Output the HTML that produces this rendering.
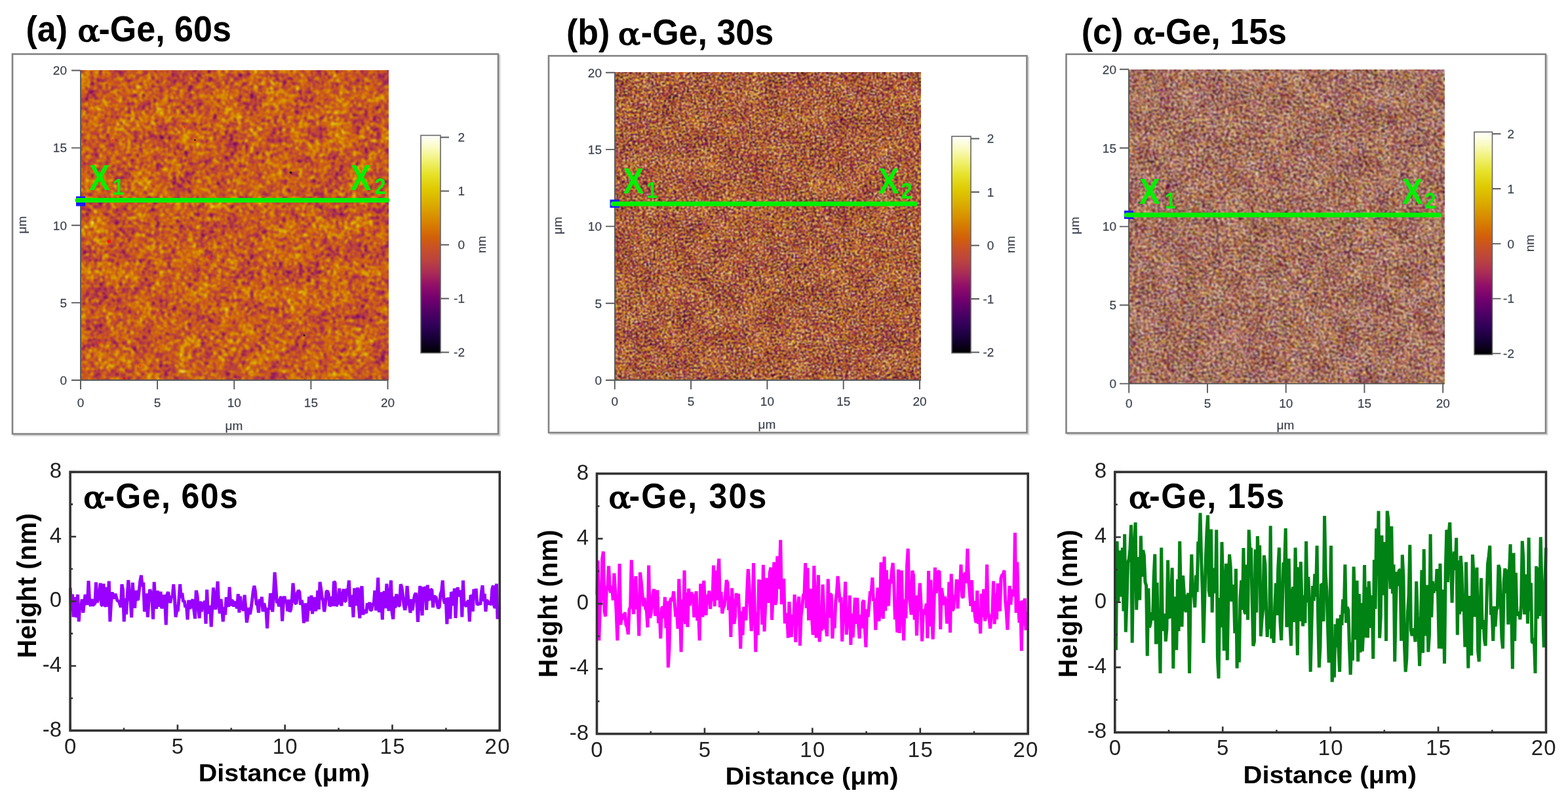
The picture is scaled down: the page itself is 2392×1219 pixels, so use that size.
<!DOCTYPE html>
<html lang="en"><head><meta charset="utf-8"><title>AFM topography of α-Ge films</title>
<style>html,body{margin:0;padding:0;background:#fff;overflow:hidden}svg{display:block}</style></head><body>
<svg width="2392" height="1219" viewBox="0 0 2392 1219" role="img" aria-label="AFM height maps and line profiles of α-Ge films deposited for 60 s, 30 s and 15 s">
<rect width="2392" height="1219" fill="#fff"/>
<defs>
<linearGradient id="cb" x1="0" y1="1" x2="0" y2="0">
<stop offset="0" stop-color="rgb(0,0,0)"/>
<stop offset="0.06" stop-color="rgb(20,0,50)"/>
<stop offset="0.12" stop-color="rgb(45,0,85)"/>
<stop offset="0.18" stop-color="rgb(75,0,100)"/>
<stop offset="0.25" stop-color="rgb(115,0,110)"/>
<stop offset="0.31" stop-color="rgb(145,15,105)"/>
<stop offset="0.37" stop-color="rgb(170,45,85)"/>
<stop offset="0.42" stop-color="rgb(185,65,65)"/>
<stop offset="0.48" stop-color="rgb(200,80,40)"/>
<stop offset="0.53" stop-color="rgb(210,95,10)"/>
<stop offset="0.6" stop-color="rgb(215,130,0)"/>
<stop offset="0.68" stop-color="rgb(218,170,0)"/>
<stop offset="0.75" stop-color="rgb(222,200,0)"/>
<stop offset="0.82" stop-color="rgb(230,225,40)"/>
<stop offset="0.88" stop-color="rgb(240,240,110)"/>
<stop offset="0.94" stop-color="rgb(250,250,190)"/>
<stop offset="1" stop-color="rgb(255,255,255)"/>
</linearGradient>
<filter id="nza" x="0" y="0" width="100%" height="100%" color-interpolation-filters="sRGB">
<feTurbulence type="fractalNoise" baseFrequency="0.16" numOctaves="2" seed="3"/>
<feColorMatrix type="matrix" values="1 0 0 0 0  1 0 0 0 0  1 0 0 0 0  0 0 0 0 1" result="a"/>
<feTurbulence type="fractalNoise" baseFrequency="0.23" numOctaves="2" seed="6"/>
<feColorMatrix type="matrix" values="1 0 0 0 0  1 0 0 0 0  1 0 0 0 0  0 0 0 0 1" result="a2"/>
<feTurbulence type="fractalNoise" baseFrequency="0.03" numOctaves="2" seed="10"/>
<feColorMatrix type="matrix" values="1 0 0 0 0  1 0 0 0 0  1 0 0 0 0  0 0 0 0 1" result="b"/>
<feComposite in="a" in2="a2" operator="arithmetic" k1="0" k2="0.5" k3="0.5" k4="0" result="fine"/>
<feComposite in="fine" in2="b" operator="arithmetic" k1="0" k2="1.15" k3="0.3" k4="-0.22" result="c"/>
<feComponentTransfer in="c"><feFuncR type="table" tableValues="0.000 0.020 0.041 0.061 0.083 0.108 0.134 0.159 0.186 0.217 0.248 0.278 0.311 0.346 0.381 0.416 0.451 0.482 0.512 0.543 0.573 0.598 0.624 0.649 0.673 0.691 0.709 0.727 0.743 0.758 0.773 0.788 0.800 0.812 0.824 0.828 0.833 0.837 0.841 0.845 0.847 0.849 0.851 0.854 0.857 0.860 0.864 0.867 0.871 0.878 0.885 0.892 0.899 0.907 0.917 0.928 0.938 0.948 0.958 0.969 0.979 0.985 0.990 0.995 1.000"/><feFuncG type="table" tableValues="0.000 0.000 0.000 0.000 0.000 0.000 0.000 0.000 0.000 0.000 0.000 0.000 0.000 0.000 0.000 0.000 0.000 0.015 0.031 0.046 0.064 0.094 0.125 0.156 0.184 0.209 0.233 0.257 0.272 0.287 0.303 0.319 0.337 0.356 0.375 0.406 0.436 0.467 0.498 0.528 0.559 0.589 0.620 0.651 0.679 0.706 0.732 0.758 0.784 0.806 0.828 0.850 0.872 0.890 0.906 0.921 0.936 0.948 0.958 0.969 0.979 0.985 0.990 0.995 1.000"/><feFuncB type="table" tableValues="0.000 0.051 0.102 0.153 0.202 0.238 0.273 0.309 0.338 0.354 0.369 0.384 0.396 0.405 0.414 0.423 0.431 0.426 0.421 0.416 0.408 0.388 0.368 0.347 0.325 0.301 0.276 0.252 0.226 0.201 0.175 0.147 0.110 0.073 0.039 0.030 0.021 0.012 0.004 0.000 0.000 0.000 0.000 0.000 0.000 0.000 0.000 0.000 0.000 0.035 0.070 0.105 0.140 0.194 0.266 0.337 0.408 0.487 0.569 0.650 0.732 0.801 0.867 0.934 1.000"/></feComponentTransfer>
<feGaussianBlur stdDeviation="1.5"/>
<feComponentTransfer><feFuncA type="linear" slope="0" intercept="1"/></feComponentTransfer>
</filter>
<filter id="nzb" x="0" y="0" width="100%" height="100%" color-interpolation-filters="sRGB">
<feTurbulence type="fractalNoise" baseFrequency="0.37 0.41" numOctaves="2" seed="11"/>
<feColorMatrix type="matrix" values="1 0 0 0 0  1 0 0 0 0  1 0 0 0 0  0 0 0 0 1" result="a"/>
<feTurbulence type="fractalNoise" baseFrequency="0.46 0.43" numOctaves="2" seed="14"/>
<feColorMatrix type="matrix" values="1 0 0 0 0  1 0 0 0 0  1 0 0 0 0  0 0 0 0 1" result="a2"/>
<feTurbulence type="fractalNoise" baseFrequency="0.03" numOctaves="2" seed="18"/>
<feColorMatrix type="matrix" values="1 0 0 0 0  1 0 0 0 0  1 0 0 0 0  0 0 0 0 1" result="b"/>
<feComposite in="a" in2="a2" operator="arithmetic" k1="0" k2="0.5" k3="0.5" k4="0" result="fine"/>
<feComposite in="fine" in2="b" operator="arithmetic" k1="0" k2="3.0" k3="0.2" k4="-1.1" result="c"/>
<feComponentTransfer in="c"><feFuncR type="table" tableValues="0.000 0.000 0.000 0.000 0.000 0.005 0.028 0.050 0.073 0.099 0.127 0.155 0.185 0.219 0.252 0.286 0.323 0.362 0.400 0.439 0.474 0.508 0.541 0.574 0.602 0.630 0.658 0.681 0.701 0.721 0.739 0.756 0.773 0.790 0.806 0.821 0.828 0.834 0.839 0.844 0.847 0.850 0.852 0.856 0.860 0.864 0.869 0.876 0.884 0.893 0.902 0.914 0.927 0.940 0.953 0.966 0.978 0.986 0.992 0.998 1.000 1.000 1.000 1.000 1.000"/><feFuncG type="table" tableValues="0.000 0.000 0.000 0.000 0.000 0.000 0.000 0.000 0.000 0.000 0.000 0.000 0.000 0.000 0.000 0.000 0.000 0.000 0.000 0.000 0.012 0.028 0.045 0.065 0.099 0.133 0.166 0.195 0.222 0.249 0.268 0.285 0.302 0.323 0.346 0.369 0.404 0.442 0.481 0.519 0.557 0.596 0.634 0.671 0.704 0.737 0.770 0.800 0.827 0.854 0.882 0.901 0.920 0.939 0.953 0.966 0.978 0.986 0.992 0.998 1.000 1.000 1.000 1.000 1.000"/><feFuncB type="table" tableValues="0.000 0.000 0.000 0.000 0.000 0.013 0.069 0.125 0.181 0.225 0.264 0.304 0.338 0.354 0.371 0.388 0.399 0.409 0.419 0.428 0.428 0.422 0.416 0.407 0.385 0.362 0.340 0.314 0.287 0.260 0.233 0.205 0.176 0.139 0.093 0.047 0.030 0.019 0.008 0.000 0.000 0.000 0.000 0.000 0.000 0.000 0.000 0.025 0.068 0.112 0.156 0.244 0.334 0.423 0.524 0.626 0.728 0.814 0.897 0.980 1.000 1.000 1.000 1.000 1.000"/></feComponentTransfer>
<feGaussianBlur stdDeviation="1.0"/>
<feComponentTransfer><feFuncA type="linear" slope="0" intercept="1"/></feComponentTransfer>
</filter>
<filter id="nzc" x="0" y="0" width="100%" height="100%" color-interpolation-filters="sRGB">
<feTurbulence type="fractalNoise" baseFrequency="0.41 0.37" numOctaves="2" seed="23"/>
<feColorMatrix type="matrix" values="1 0 0 0 0  1 0 0 0 0  1 0 0 0 0  0 0 0 0 1" result="a"/>
<feTurbulence type="fractalNoise" baseFrequency="0.44 0.47" numOctaves="2" seed="26"/>
<feColorMatrix type="matrix" values="1 0 0 0 0  1 0 0 0 0  1 0 0 0 0  0 0 0 0 1" result="a2"/>
<feTurbulence type="fractalNoise" baseFrequency="0.03" numOctaves="2" seed="30"/>
<feColorMatrix type="matrix" values="1 0 0 0 0  1 0 0 0 0  1 0 0 0 0  0 0 0 0 1" result="b"/>
<feComposite in="a" in2="a2" operator="arithmetic" k1="0" k2="0.5" k3="0.5" k4="0" result="fine"/>
<feComposite in="fine" in2="b" operator="arithmetic" k1="0" k2="3.0" k3="0.15" k4="-1.07" result="c"/>
<feComponentTransfer in="c"><feFuncR type="table" tableValues="0.000 0.000 0.000 0.000 0.000 0.000 0.000 0.000 0.000 0.000 0.000 0.000 0.008 0.039 0.069 0.105 0.144 0.183 0.229 0.275 0.325 0.377 0.430 0.479 0.525 0.570 0.608 0.647 0.680 0.707 0.733 0.756 0.779 0.809 0.828 0.838 0.846 0.851 0.857 0.865 0.876 0.892 0.911 0.935 0.958 0.981 0.993 1.000 1.000 1.000 1.000 1.000 1.000 1.000 1.000 1.000 1.000 1.000 1.000 1.000 1.000 1.000 1.000 1.000 1.000"/><feFuncG type="table" tableValues="0.000 0.000 0.000 0.000 0.000 0.000 0.000 0.000 0.000 0.000 0.000 0.000 0.000 0.000 0.000 0.000 0.000 0.000 0.000 0.000 0.000 0.000 0.000 0.014 0.037 0.061 0.107 0.153 0.194 0.231 0.263 0.286 0.309 0.350 0.406 0.476 0.547 0.617 0.685 0.745 0.802 0.852 0.896 0.932 0.958 0.981 0.993 1.000 1.000 1.000 1.000 1.000 1.000 1.000 1.000 1.000 1.000 1.000 1.000 1.000 1.000 1.000 1.000 1.000 1.000"/><feFuncB type="table" tableValues="0.000 0.000 0.000 0.000 0.000 0.000 0.000 0.000 0.000 0.000 0.000 0.000 0.020 0.097 0.174 0.234 0.288 0.337 0.360 0.383 0.400 0.413 0.426 0.427 0.419 0.411 0.380 0.349 0.316 0.279 0.242 0.203 0.165 0.084 0.030 0.010 0.000 0.000 0.000 0.000 0.028 0.109 0.223 0.387 0.569 0.754 0.907 1.000 1.000 1.000 1.000 1.000 1.000 1.000 1.000 1.000 1.000 1.000 1.000 1.000 1.000 1.000 1.000 1.000 1.000"/></feComponentTransfer>
<feGaussianBlur stdDeviation="1.5"/>
<feComponentTransfer><feFuncA type="linear" slope="0" intercept="1"/></feComponentTransfer>
</filter>
</defs>
<g>
<g id="afm-a">
<text transform="translate(118.5 62.6) scale(1.07 1)" font-family='"DejaVu Serif", "Liberation Serif", serif' font-size="47" font-weight="normal" fill="#000" stroke="#000" stroke-width="1.7" stroke-linejoin="round">α</text>
<text transform="translate(39.5 62.6) scale(1 1.06)" font-family='"Liberation Sans", Arial, Helvetica, sans-serif' font-size="52" font-weight="bold" fill="#000">(a) <tspan dx="33">-Ge, 60s</tspan></text>
<path d="M20 664.2 H762.2 V83.5" fill="none" stroke="#d4d4d4" stroke-width="2.6"/>
<rect x="19" y="82.5" width="741" height="579.5" fill="#fff" stroke="#838383" stroke-width="2.6"/>
<rect x="123" y="107.5" width="469.5" height="472.5" fill="rgb(200,100,30)"/>
<rect x="123" y="107.5" width="469.5" height="472.5" fill="#000" filter="url(#nza)" opacity="1"/>
<circle cx="175.7" cy="155.1" r="1.6" fill="#ff3020"/>
<circle cx="276" cy="161.8" r="1.4" fill="#ff3020"/>
<circle cx="281.7" cy="193.6" r="1.8" fill="#ff2a18"/>
<circle cx="171.8" cy="213.7" r="1.5" fill="#ff3020"/>
<circle cx="564.6" cy="181.3" r="1.4" fill="#ff4030"/>
<circle cx="166.2" cy="368.2" r="2.6" fill="#ff1408"/>
<circle cx="318" cy="393.3" r="1.8" fill="#ff2a18"/>
<circle cx="304" cy="415.6" r="1.3" fill="#ff4030"/>
<circle cx="553.4" cy="349.8" r="1.8" fill="#ff2010"/>
<circle cx="242.7" cy="478" r="1.4" fill="#ff4030"/>
<circle cx="345.9" cy="485.4" r="1.3" fill="#ff4030"/>
<circle cx="151.7" cy="522.7" r="1.7" fill="#ff2a18"/>
<circle cx="213.7" cy="557.9" r="1.5" fill="#ff3020"/>
<circle cx="503.8" cy="546.7" r="1.4" fill="#ff4030"/>
<circle cx="189.7" cy="577.6" r="2.2" fill="#e01010"/>
<circle cx="297.4" cy="213.7" r="1.4" fill="#2a1020"/>
<circle cx="443.5" cy="263.3" r="1.8" fill="#201018"/>
<circle cx="464.2" cy="511.6" r="1.5" fill="#2a1a10"/>
<g stroke="#3b3f4c" stroke-width="0.35" stroke-opacity="0.55">
<path d="M123 580 V594 M109 107.5 H123 M240.12 580 V594 M109 225.62 H123 M357.25 580 V594 M109 343.75 H123 M474.38 580 V594 M109 461.88 H123 M591.5 580 V594 M109 580 H123 M123 107.5 V580 H592.5" fill="none" stroke="#5a5a5a" stroke-width="1.9" stroke-opacity="1"/>
<text transform="translate(123 620.84)" font-family='"Liberation Sans", Arial, Helvetica, sans-serif' font-size="19" font-weight="normal" text-anchor="middle" fill="#3b3f4c">0</text>
<text transform="translate(102 586.84)" font-family='"Liberation Sans", Arial, Helvetica, sans-serif' font-size="19" font-weight="normal" text-anchor="end" fill="#3b3f4c">0</text>
<text transform="translate(240.12 620.84)" font-family='"Liberation Sans", Arial, Helvetica, sans-serif' font-size="19" font-weight="normal" text-anchor="middle" fill="#3b3f4c">5</text>
<text transform="translate(102 468.71)" font-family='"Liberation Sans", Arial, Helvetica, sans-serif' font-size="19" font-weight="normal" text-anchor="end" fill="#3b3f4c">5</text>
<text transform="translate(357.25 620.84)" font-family='"Liberation Sans", Arial, Helvetica, sans-serif' font-size="19" font-weight="normal" text-anchor="middle" fill="#3b3f4c">10</text>
<text transform="translate(102 350.59)" font-family='"Liberation Sans", Arial, Helvetica, sans-serif' font-size="19" font-weight="normal" text-anchor="end" fill="#3b3f4c">10</text>
<text transform="translate(474.38 620.84)" font-family='"Liberation Sans", Arial, Helvetica, sans-serif' font-size="19" font-weight="normal" text-anchor="middle" fill="#3b3f4c">15</text>
<text transform="translate(102 232.47)" font-family='"Liberation Sans", Arial, Helvetica, sans-serif' font-size="19" font-weight="normal" text-anchor="end" fill="#3b3f4c">15</text>
<text transform="translate(591.5 620.84)" font-family='"Liberation Sans", Arial, Helvetica, sans-serif' font-size="19" font-weight="normal" text-anchor="middle" fill="#3b3f4c">20</text>
<text transform="translate(102 114.34)" font-family='"Liberation Sans", Arial, Helvetica, sans-serif' font-size="19" font-weight="normal" text-anchor="end" fill="#3b3f4c">20</text>
<text transform="translate(357 656)" font-family='"Liberation Sans", Arial, Helvetica, sans-serif' font-size="19" font-weight="normal" text-anchor="middle" fill="#3b3f4c">μm</text>
<text transform="translate(40 343) rotate(-90)" font-family='"Liberation Sans", Arial, Helvetica, sans-serif' font-size="19" font-weight="normal" text-anchor="middle" fill="#3b3f4c">μm</text>
<rect x="642" y="206.5" width="30" height="332" fill="url(#cb)" stroke="#666" stroke-width="1.6" stroke-opacity="1"/>
<text transform="translate(709 216.34)" font-family='"Liberation Sans", Arial, Helvetica, sans-serif' font-size="19" font-weight="normal" text-anchor="end" fill="#3b3f4c">2</text>
<text transform="translate(709 298.34)" font-family='"Liberation Sans", Arial, Helvetica, sans-serif' font-size="19" font-weight="normal" text-anchor="end" fill="#3b3f4c">1</text>
<text transform="translate(709 380.34)" font-family='"Liberation Sans", Arial, Helvetica, sans-serif' font-size="19" font-weight="normal" text-anchor="end" fill="#3b3f4c">0</text>
<text transform="translate(709 462.34)" font-family='"Liberation Sans", Arial, Helvetica, sans-serif' font-size="19" font-weight="normal" text-anchor="end" fill="#3b3f4c">-1</text>
<text transform="translate(709 544.34)" font-family='"Liberation Sans", Arial, Helvetica, sans-serif' font-size="19" font-weight="normal" text-anchor="end" fill="#3b3f4c">-2</text>
<path d="M672 209.5 H685 M672 291.5 H685 M672 373.5 H685 M672 455.5 H685 M672 537.5 H685" fill="none" stroke="#5a5a5a" stroke-width="1.9" stroke-opacity="1"/>
<text transform="translate(741 373) rotate(-90)" font-family='"Liberation Sans", Arial, Helvetica, sans-serif' font-size="19" font-weight="normal" text-anchor="middle" fill="#3b3f4c">nm</text>
</g>
<rect x="116" y="299.5" width="14" height="15" fill="#1a1aff"/>
<g>
<line x1="118" y1="305.5" x2="591" y2="305.5" stroke="#00f000" stroke-width="7" stroke-linecap="round"/>
<text transform="translate(136 289.5) scale(0.85 1)" font-family='"Liberation Sans", Arial, Helvetica, sans-serif' font-size="56" font-weight="bold" text-anchor="start" fill="#00f000">X</text>
<text transform="translate(172 297) scale(0.85 1)" font-family='"Liberation Sans", Arial, Helvetica, sans-serif' font-size="36" font-weight="bold" text-anchor="start" fill="#00f000">1</text>
<text transform="translate(534.5 289.5) scale(0.85 1)" font-family='"Liberation Sans", Arial, Helvetica, sans-serif' font-size="56" font-weight="bold" text-anchor="start" fill="#00f000">X</text>
<text transform="translate(571.5 295.5) scale(0.85 1)" font-family='"Liberation Sans", Arial, Helvetica, sans-serif' font-size="36" font-weight="bold" text-anchor="start" fill="#00f000">2</text>
</g>
</g>
<g id="afm-b">
<text transform="translate(943 67.6) scale(1.07 1)" font-family='"DejaVu Serif", "Liberation Serif", serif' font-size="47" font-weight="normal" fill="#000" stroke="#000" stroke-width="1.7" stroke-linejoin="round">α</text>
<text transform="translate(864 67.6) scale(1 1.06)" font-family='"Liberation Sans", Arial, Helvetica, sans-serif' font-size="52" font-weight="bold" fill="#000">(b) <tspan dx="33">-Ge, 30s</tspan></text>
<path d="M838 662.2 H1568.7 V86.2" fill="none" stroke="#d4d4d4" stroke-width="2.6"/>
<rect x="837" y="85.2" width="729.5" height="574.8" fill="#fff" stroke="#838383" stroke-width="2.6"/>
<rect x="938" y="110.5" width="467" height="469.5" fill="rgb(190,100,50)"/>
<rect x="938" y="110.5" width="467" height="469.5" fill="#000" filter="url(#nzb)" opacity="1"/>
<g stroke="#3b3f4c" stroke-width="0.35" stroke-opacity="0.55">
<path d="M937.8 580 V594 M924 110.8 H938 M1054.1 580 V594 M924 228.1 H938 M1170.4 580 V594 M924 345.4 H938 M1286.7 580 V594 M924 462.7 H938 M1403 580 V594 M924 580 H938 M938 110.5 V580 H1405" fill="none" stroke="#5a5a5a" stroke-width="1.9" stroke-opacity="1"/>
<text transform="translate(937.8 618.84)" font-family='"Liberation Sans", Arial, Helvetica, sans-serif' font-size="19" font-weight="normal" text-anchor="middle" fill="#3b3f4c">0</text>
<text transform="translate(918 586.84)" font-family='"Liberation Sans", Arial, Helvetica, sans-serif' font-size="19" font-weight="normal" text-anchor="end" fill="#3b3f4c">0</text>
<text transform="translate(1054.1 618.84)" font-family='"Liberation Sans", Arial, Helvetica, sans-serif' font-size="19" font-weight="normal" text-anchor="middle" fill="#3b3f4c">5</text>
<text transform="translate(918 469.54)" font-family='"Liberation Sans", Arial, Helvetica, sans-serif' font-size="19" font-weight="normal" text-anchor="end" fill="#3b3f4c">5</text>
<text transform="translate(1170.4 618.84)" font-family='"Liberation Sans", Arial, Helvetica, sans-serif' font-size="19" font-weight="normal" text-anchor="middle" fill="#3b3f4c">10</text>
<text transform="translate(918 352.24)" font-family='"Liberation Sans", Arial, Helvetica, sans-serif' font-size="19" font-weight="normal" text-anchor="end" fill="#3b3f4c">10</text>
<text transform="translate(1286.7 618.84)" font-family='"Liberation Sans", Arial, Helvetica, sans-serif' font-size="19" font-weight="normal" text-anchor="middle" fill="#3b3f4c">15</text>
<text transform="translate(918 234.94)" font-family='"Liberation Sans", Arial, Helvetica, sans-serif' font-size="19" font-weight="normal" text-anchor="end" fill="#3b3f4c">15</text>
<text transform="translate(1403 618.84)" font-family='"Liberation Sans", Arial, Helvetica, sans-serif' font-size="19" font-weight="normal" text-anchor="middle" fill="#3b3f4c">20</text>
<text transform="translate(918 117.64)" font-family='"Liberation Sans", Arial, Helvetica, sans-serif' font-size="19" font-weight="normal" text-anchor="end" fill="#3b3f4c">20</text>
<text transform="translate(1170 654)" font-family='"Liberation Sans", Arial, Helvetica, sans-serif' font-size="19" font-weight="normal" text-anchor="middle" fill="#3b3f4c">μm</text>
<text transform="translate(857 344) rotate(-90)" font-family='"Liberation Sans", Arial, Helvetica, sans-serif' font-size="19" font-weight="normal" text-anchor="middle" fill="#3b3f4c">μm</text>
<rect x="1452" y="208" width="29" height="330.6" fill="url(#cb)" stroke="#666" stroke-width="1.6" stroke-opacity="1"/>
<text transform="translate(1516.3 218.34)" font-family='"Liberation Sans", Arial, Helvetica, sans-serif' font-size="19" font-weight="normal" text-anchor="end" fill="#3b3f4c">2</text>
<text transform="translate(1516.3 299.84)" font-family='"Liberation Sans", Arial, Helvetica, sans-serif' font-size="19" font-weight="normal" text-anchor="end" fill="#3b3f4c">1</text>
<text transform="translate(1516.3 381.34)" font-family='"Liberation Sans", Arial, Helvetica, sans-serif' font-size="19" font-weight="normal" text-anchor="end" fill="#3b3f4c">0</text>
<text transform="translate(1516.3 462.84)" font-family='"Liberation Sans", Arial, Helvetica, sans-serif' font-size="19" font-weight="normal" text-anchor="end" fill="#3b3f4c">-1</text>
<text transform="translate(1516.3 544.34)" font-family='"Liberation Sans", Arial, Helvetica, sans-serif' font-size="19" font-weight="normal" text-anchor="end" fill="#3b3f4c">-2</text>
<path d="M1481 211.5 H1494 M1481 293 H1494 M1481 374.5 H1494 M1481 456 H1494 M1481 537.5 H1494" fill="none" stroke="#5a5a5a" stroke-width="1.9" stroke-opacity="1"/>
<text transform="translate(1548 373) rotate(-90)" font-family='"Liberation Sans", Arial, Helvetica, sans-serif' font-size="19" font-weight="normal" text-anchor="middle" fill="#3b3f4c">nm</text>
</g>
<rect x="930.5" y="304.5" width="14.5" height="12.5" fill="#1a1aff"/>
<g>
<line x1="935" y1="311" x2="1396" y2="311" stroke="#00f000" stroke-width="7" stroke-linecap="round"/>
<text transform="translate(950.5 295.4) scale(0.85 1)" font-family='"Liberation Sans", Arial, Helvetica, sans-serif' font-size="56" font-weight="bold" text-anchor="start" fill="#00f000">X</text>
<text transform="translate(986 302) scale(0.85 1)" font-family='"Liberation Sans", Arial, Helvetica, sans-serif' font-size="36" font-weight="bold" text-anchor="start" fill="#00f000">1</text>
<text transform="translate(1340 295.4) scale(0.85 1)" font-family='"Liberation Sans", Arial, Helvetica, sans-serif' font-size="56" font-weight="bold" text-anchor="start" fill="#00f000">X</text>
<text transform="translate(1374.5 302.5) scale(0.85 1)" font-family='"Liberation Sans", Arial, Helvetica, sans-serif' font-size="36" font-weight="bold" text-anchor="start" fill="#00f000">2</text>
</g>
</g>
<g id="afm-c">
<text transform="translate(1728.7 67.4) scale(1.07 1)" font-family='"DejaVu Serif", "Liberation Serif", serif' font-size="47" font-weight="normal" fill="#000" stroke="#000" stroke-width="1.7" stroke-linejoin="round">α</text>
<text transform="translate(1649.7 67.4) scale(1 1.06)" font-family='"Liberation Sans", Arial, Helvetica, sans-serif' font-size="52" font-weight="bold" fill="#000">(c) <tspan dx="33">-Ge, 15s</tspan></text>
<path d="M1627.5 662.8 H2360.2 V83.7" fill="none" stroke="#d4d4d4" stroke-width="2.6"/>
<rect x="1626.5" y="82.7" width="731.5" height="577.9" fill="#fff" stroke="#838383" stroke-width="2.6"/>
<rect x="1722" y="106" width="481.7" height="479.4" fill="rgb(185,110,70)"/>
<rect x="1722" y="106" width="481.7" height="479.4" fill="#000" filter="url(#nzc)" opacity="1"/>
<g stroke="#3b3f4c" stroke-width="0.35" stroke-opacity="0.55">
<path d="M1722.2 585.4 V599.4 M1708 105.8 H1722 M1841.95 585.4 V599.4 M1708 225.7 H1722 M1961.7 585.4 V599.4 M1708 345.6 H1722 M2081.45 585.4 V599.4 M1708 465.5 H1722 M2201.2 585.4 V599.4 M1708 585.4 H1722 M1722 106 V585.4 H2203.7" fill="none" stroke="#5a5a5a" stroke-width="1.9" stroke-opacity="1"/>
<text transform="translate(1722.2 622.44)" font-family='"Liberation Sans", Arial, Helvetica, sans-serif' font-size="19" font-weight="normal" text-anchor="middle" fill="#3b3f4c">0</text>
<text transform="translate(1703 592.24)" font-family='"Liberation Sans", Arial, Helvetica, sans-serif' font-size="19" font-weight="normal" text-anchor="end" fill="#3b3f4c">0</text>
<text transform="translate(1841.95 622.44)" font-family='"Liberation Sans", Arial, Helvetica, sans-serif' font-size="19" font-weight="normal" text-anchor="middle" fill="#3b3f4c">5</text>
<text transform="translate(1703 472.34)" font-family='"Liberation Sans", Arial, Helvetica, sans-serif' font-size="19" font-weight="normal" text-anchor="end" fill="#3b3f4c">5</text>
<text transform="translate(1961.7 622.44)" font-family='"Liberation Sans", Arial, Helvetica, sans-serif' font-size="19" font-weight="normal" text-anchor="middle" fill="#3b3f4c">10</text>
<text transform="translate(1703 352.44)" font-family='"Liberation Sans", Arial, Helvetica, sans-serif' font-size="19" font-weight="normal" text-anchor="end" fill="#3b3f4c">10</text>
<text transform="translate(2081.45 622.44)" font-family='"Liberation Sans", Arial, Helvetica, sans-serif' font-size="19" font-weight="normal" text-anchor="middle" fill="#3b3f4c">15</text>
<text transform="translate(1703 232.54)" font-family='"Liberation Sans", Arial, Helvetica, sans-serif' font-size="19" font-weight="normal" text-anchor="end" fill="#3b3f4c">15</text>
<text transform="translate(2201.2 622.44)" font-family='"Liberation Sans", Arial, Helvetica, sans-serif' font-size="19" font-weight="normal" text-anchor="middle" fill="#3b3f4c">20</text>
<text transform="translate(1703 112.64)" font-family='"Liberation Sans", Arial, Helvetica, sans-serif' font-size="19" font-weight="normal" text-anchor="end" fill="#3b3f4c">20</text>
<text transform="translate(1961 654.7)" font-family='"Liberation Sans", Arial, Helvetica, sans-serif' font-size="19" font-weight="normal" text-anchor="middle" fill="#3b3f4c">μm</text>
<text transform="translate(1646 344) rotate(-90)" font-family='"Liberation Sans", Arial, Helvetica, sans-serif' font-size="19" font-weight="normal" text-anchor="middle" fill="#3b3f4c">μm</text>
<rect x="2249" y="201.4" width="27.5" height="339.6" fill="url(#cb)" stroke="#666" stroke-width="1.6" stroke-opacity="1"/>
<text transform="translate(2310 211.14)" font-family='"Liberation Sans", Arial, Helvetica, sans-serif' font-size="19" font-weight="normal" text-anchor="end" fill="#3b3f4c">2</text>
<text transform="translate(2310 294.91)" font-family='"Liberation Sans", Arial, Helvetica, sans-serif' font-size="19" font-weight="normal" text-anchor="end" fill="#3b3f4c">1</text>
<text transform="translate(2310 378.69)" font-family='"Liberation Sans", Arial, Helvetica, sans-serif' font-size="19" font-weight="normal" text-anchor="end" fill="#3b3f4c">0</text>
<text transform="translate(2310 462.46)" font-family='"Liberation Sans", Arial, Helvetica, sans-serif' font-size="19" font-weight="normal" text-anchor="end" fill="#3b3f4c">-1</text>
<text transform="translate(2310 546.24)" font-family='"Liberation Sans", Arial, Helvetica, sans-serif' font-size="19" font-weight="normal" text-anchor="end" fill="#3b3f4c">-2</text>
<path d="M2276.5 204.3 H2289.5 M2276.5 288.07 H2289.5 M2276.5 371.85 H2289.5 M2276.5 455.62 H2289.5 M2276.5 539.4 H2289.5" fill="none" stroke="#5a5a5a" stroke-width="1.9" stroke-opacity="1"/>
<text transform="translate(2339.8 371) rotate(-90)" font-family='"Liberation Sans", Arial, Helvetica, sans-serif' font-size="19" font-weight="normal" text-anchor="middle" fill="#3b3f4c">nm</text>
</g>
<rect x="1715" y="321.3" width="14" height="12.7" fill="#1a1aff"/>
<g>
<line x1="1718.5" y1="328" x2="2195" y2="328" stroke="#00f000" stroke-width="7" stroke-linecap="round"/>
<text transform="translate(1738 310.5) scale(0.85 1)" font-family='"Liberation Sans", Arial, Helvetica, sans-serif' font-size="56" font-weight="bold" text-anchor="start" fill="#00f000">X</text>
<text transform="translate(1777 318) scale(0.85 1)" font-family='"Liberation Sans", Arial, Helvetica, sans-serif' font-size="36" font-weight="bold" text-anchor="start" fill="#00f000">1</text>
<text transform="translate(2139 310.5) scale(0.85 1)" font-family='"Liberation Sans", Arial, Helvetica, sans-serif' font-size="56" font-weight="bold" text-anchor="start" fill="#00f000">X</text>
<text transform="translate(2173.5 317.7) scale(0.85 1)" font-family='"Liberation Sans", Arial, Helvetica, sans-serif' font-size="36" font-weight="bold" text-anchor="start" fill="#00f000">2</text>
</g>
</g>
<g id="profile-a">
<clipPath id="clipa"><rect x="105.1" y="720.1" width="659.2" height="394.5"/></clipPath>
<path d="M107.1 896.64 L108.74 931.57 L110.38 906.68 L112.03 941.32 L113.67 911.09 L115.31 919.51 L116.95 942.12 L118.59 906.98 L120.24 948.42 L121.88 921.64 L123.52 926.98 L125.16 914.21 L126.81 934.83 L128.45 920.27 L130.09 907.18 L131.73 917.28 L133.37 922.69 L135.02 886.22 L136.66 919.25 L138.3 924.81 L139.94 913.91 L141.58 924.38 L143.23 921.39 L144.87 921.16 L146.51 888.34 L148.15 919.23 L149.79 913.98 L151.44 907.57 L153.08 889.63 L154.72 922.31 L156.36 924.52 L158.01 890.61 L159.65 923.99 L161.29 924 L162.93 895.83 L164.57 925.98 L166.22 886.66 L167.86 948.42 L169.5 919.19 L171.14 903.34 L172.78 913.44 L174.43 909.6 L176.07 905.91 L177.71 912.31 L179.35 917.19 L180.99 916.45 L182.64 921.29 L184.28 926.56 L185.92 891.46 L187.56 900.38 L189.21 948.42 L190.85 912.83 L192.49 937.41 L194.13 910.98 L195.77 885.06 L197.42 905.97 L199.06 916.65 L200.7 942.19 L202.34 888.82 L203.98 915.55 L205.63 927.74 L207.27 900.9 L208.91 912.88 L210.55 915.77 L212.19 901.33 L213.84 886.12 L215.48 877.65 L217.12 894.7 L218.76 888.61 L220.41 933.25 L222.05 922.08 L223.69 905.43 L225.33 941.58 L226.97 918.26 L228.62 899.24 L230.26 904.78 L231.9 910.81 L233.54 944.57 L235.18 887.92 L236.83 913.96 L238.47 928.86 L240.11 901.33 L241.75 909.25 L243.39 925.75 L245.04 902.63 L246.68 928.4 L248.32 922.58 L249.96 907.49 L251.61 917.74 L253.25 953.35 L254.89 907.04 L256.53 903.3 L258.17 912.48 L259.82 919.95 L261.46 909.95 L263.1 910.89 L264.74 891.46 L266.38 912.71 L268.03 941.48 L269.67 931.6 L271.31 932.18 L272.95 914.33 L274.59 891.31 L276.24 912.04 L277.88 904.83 L279.52 918.13 L281.16 916.34 L282.81 926.68 L284.45 923.43 L286.09 945.29 L287.73 915.52 L289.37 927.35 L291.02 927.1 L292.66 916.9 L294.3 914.69 L295.94 931.04 L297.58 943.9 L299.23 900.84 L300.87 908.14 L302.51 924.79 L304.15 943.19 L305.79 917.5 L307.44 933.15 L309.08 918.79 L310.72 928.18 L312.36 916.48 L314.01 951.62 L315.65 899.69 L317.29 936.17 L318.93 931.84 L320.57 923.79 L322.22 956.31 L323.86 925.11 L325.5 896.55 L327.14 913.92 L328.78 930.01 L330.43 912.69 L332.07 887.02 L333.71 922.35 L335.35 935.89 L336.99 913.98 L338.64 929.56 L340.28 948.42 L341.92 926.23 L343.56 938.13 L345.21 911.25 L346.85 920.24 L348.49 925.88 L350.13 895.74 L351.77 924.29 L353.42 916.55 L355.06 916.49 L356.7 925.49 L358.34 917.59 L359.98 922.58 L361.63 928.35 L363.27 906.07 L364.91 934.6 L366.55 909.74 L368.19 928.17 L369.84 928.05 L371.48 931.85 L373.12 907.62 L374.76 927.36 L376.41 949.9 L378.05 940.17 L379.69 926.97 L381.33 937.16 L382.97 928.62 L384.62 915.71 L386.26 901.83 L387.9 893.68 L389.54 902.66 L391.18 922.28 L392.83 922.19 L394.47 934.79 L396.11 914 L397.75 923.43 L399.39 910.59 L401.04 933.18 L402.68 920.33 L404.32 926.74 L405.96 930.62 L407.61 958.53 L409.25 927.66 L410.89 930.2 L412.53 905.2 L414.17 914.32 L415.82 933.46 L417.46 905.65 L419.1 873.22 L420.74 894.59 L422.38 919.9 L424.03 917.91 L425.67 925.29 L427.31 913.53 L428.95 909.99 L430.59 947.68 L432.24 921.37 L433.88 909.68 L435.52 917.94 L437.16 915.27 L438.81 932.47 L440.45 914.79 L442.09 933.58 L443.73 929.53 L445.37 915.72 L447.02 889.6 L448.66 907.84 L450.3 919.99 L451.94 921.3 L453.58 904.62 L455.23 900.64 L456.87 903.25 L458.51 922.77 L460.15 915.43 L461.79 923.38 L463.44 950.64 L465.08 929.92 L466.72 920.45 L468.36 948.16 L470.01 931.79 L471.65 910.35 L473.29 931.44 L474.93 908.48 L476.57 936.53 L478.22 920.53 L479.86 911.18 L481.5 932.2 L483.14 925.38 L484.78 900.92 L486.43 929.75 L488.07 887.76 L489.71 898.56 L491.35 912.04 L492.99 916.36 L494.64 933.29 L496.28 921.65 L497.92 902.66 L499.56 901.71 L501.21 906.31 L502.85 924.57 L504.49 923.14 L506.13 910.05 L507.77 924.89 L509.42 887.44 L511.06 888.66 L512.7 924.53 L514.34 922.28 L515.98 919.65 L517.63 897.7 L519.27 917.8 L520.91 924.22 L522.55 906.94 L524.19 898.76 L525.84 917.1 L527.48 917.2 L529.12 898.29 L530.76 901.59 L532.41 885.54 L534.05 925.97 L535.69 909.15 L537.33 910.38 L538.97 941.62 L540.62 897.24 L542.26 918.4 L543.9 923.69 L545.54 896.38 L547.18 923.85 L548.83 943.24 L550.47 900.04 L552.11 894.4 L553.75 937.89 L555.39 930.65 L557.04 932.81 L558.68 935.54 L560.32 920.27 L561.96 927.92 L563.61 918.91 L565.25 931.62 L566.89 930.29 L568.53 920.18 L570.17 922.87 L571.82 900.85 L573.46 931.47 L575.1 912.27 L576.74 881.35 L578.38 934.28 L580.03 903.63 L581.67 914.45 L583.31 945.33 L584.95 904.2 L586.59 903.6 L588.24 928.14 L589.88 890.65 L591.52 916.14 L593.16 932.1 L594.81 906.41 L596.45 885.54 L598.09 934.4 L599.73 944.64 L601.37 910.05 L603.02 927.44 L604.66 906.39 L606.3 912.25 L607.94 924.58 L609.58 923.64 L611.23 891.5 L612.87 895.71 L614.51 908.88 L616.15 923.31 L617.79 930.82 L619.44 921.83 L621.08 893.99 L622.72 913.86 L624.36 922.57 L626.01 935.01 L627.65 914.27 L629.29 931.19 L630.93 917.06 L632.57 908.31 L634.22 904.66 L635.86 918.22 L637.5 948.91 L639.14 915.23 L640.78 893.99 L642.43 916.23 L644.07 939.01 L645.71 895.24 L647.35 917.92 L648.99 894.73 L650.64 930.52 L652.28 892.56 L653.92 913.54 L655.56 915.55 L657.21 899.54 L658.85 899.71 L660.49 926.83 L662.13 909.9 L663.77 910.45 L665.42 911.98 L667.06 922.37 L668.7 928.23 L670.34 925.64 L671.98 906.36 L673.63 901.96 L675.27 885.54 L676.91 915.56 L678.55 920.7 L680.19 912.46 L681.84 952.12 L683.48 911.5 L685.12 917.95 L686.76 944.13 L688.41 903.32 L690.05 906.09 L691.69 924.08 L693.33 897.66 L694.97 943 L696.62 910.06 L698.26 896.14 L699.9 910.27 L701.54 904.86 L703.18 900.94 L704.83 941.46 L706.47 885.54 L708.11 923.93 L709.75 922.6 L711.39 925.42 L713.04 918.59 L714.68 915.95 L716.32 948.42 L717.96 908.07 L719.61 909.91 L721.25 932.94 L722.89 898.88 L724.53 909.38 L726.17 898.13 L727.82 922.38 L729.46 921.65 L731.1 920.02 L732.74 922.6 L734.38 904.1 L736.03 893.19 L737.67 917.13 L739.31 905.92 L740.95 933.14 L742.59 915.34 L744.24 917.76 L745.88 921.84 L747.52 919.02 L749.16 923.21 L750.81 898.48 L752.45 893.26 L754.09 925.6 L755.73 927.22 L757.37 890.57 L759.02 944.47 L760.66 934.27 L762.3 926.2" fill="none" stroke="#9900ff" stroke-width="5" stroke-linejoin="bevel" clip-path="url(#clipa)"/>
<g>
<rect x="107.1" y="720.1" width="655.2" height="394.5" fill="none" stroke="#333" stroke-width="3.6"/>
<path d="M107.1 1114.6 V1105.6 M107.1 720.1 H116.1 M189 1114.6 V1110.6 M107.1 769.41 H111.1 M270.9 1114.6 V1105.6 M107.1 818.73 H116.1 M352.8 1114.6 V1110.6 M107.1 868.04 H111.1 M434.7 1114.6 V1105.6 M107.1 917.35 H116.1 M516.6 1114.6 V1110.6 M107.1 966.66 H111.1 M598.5 1114.6 V1105.6 M107.1 1015.97 H116.1 M680.4 1114.6 V1110.6 M107.1 1065.29 H111.1 M762.3 1114.6 V1105.6 M107.1 1114.6 H116.1" fill="none" stroke="#333" stroke-width="2.6"/>
<text transform="translate(107.1 1149.6) scale(1 1.03)" font-family='"Liberation Sans", Arial, Helvetica, sans-serif' font-size="33" font-weight="normal" text-anchor="middle" fill="#222">0</text>
<text transform="translate(270.9 1149.6) scale(1 1.03)" font-family='"Liberation Sans", Arial, Helvetica, sans-serif' font-size="33" font-weight="normal" text-anchor="middle" fill="#222">5</text>
<text transform="translate(434.7 1149.6) scale(1 1.03)" font-family='"Liberation Sans", Arial, Helvetica, sans-serif' font-size="33" font-weight="normal" text-anchor="middle" fill="#222" textLength="38" lengthAdjust="spacing">10</text>
<text transform="translate(598.5 1149.6) scale(1 1.03)" font-family='"Liberation Sans", Arial, Helvetica, sans-serif' font-size="33" font-weight="normal" text-anchor="middle" fill="#222" textLength="38" lengthAdjust="spacing">15</text>
<text transform="translate(758.5 1149.6) scale(1 1.03)" font-family='"Liberation Sans", Arial, Helvetica, sans-serif' font-size="33" font-weight="normal" text-anchor="middle" fill="#222" textLength="38" lengthAdjust="spacing">20</text>
<text transform="translate(94 729.1) scale(1 1.03)" font-family='"Liberation Sans", Arial, Helvetica, sans-serif' font-size="33" font-weight="normal" text-anchor="end" fill="#222">8</text>
<text transform="translate(94 827.73) scale(1 1.03)" font-family='"Liberation Sans", Arial, Helvetica, sans-serif' font-size="33" font-weight="normal" text-anchor="end" fill="#222">4</text>
<text transform="translate(94 926.35) scale(1 1.03)" font-family='"Liberation Sans", Arial, Helvetica, sans-serif' font-size="33" font-weight="normal" text-anchor="end" fill="#222">0</text>
<text transform="translate(94 1024.97) scale(1 1.03)" font-family='"Liberation Sans", Arial, Helvetica, sans-serif' font-size="33" font-weight="normal" text-anchor="end" fill="#222">-4</text>
<text transform="translate(94 1123.6) scale(1 1.03)" font-family='"Liberation Sans", Arial, Helvetica, sans-serif' font-size="33" font-weight="normal" text-anchor="end" fill="#222">-8</text>
<text transform="translate(302.8 1191.6)" font-family='"Liberation Sans", Arial, Helvetica, sans-serif' font-size="36.5" font-weight="bold" text-anchor="start" fill="#000" textLength="261.2" lengthAdjust="spacingAndGlyphs">Distance (μm)</text>
<text transform="translate(55 1004) rotate(-90) scale(1 1.04)" font-family='"Liberation Sans", Arial, Helvetica, sans-serif' font-size="39" font-weight="bold" text-anchor="start" fill="#000" textLength="221" lengthAdjust="spacing">Height (nm)</text>
<text transform="translate(127.3 775.4) scale(1.07 1)" font-family='"DejaVu Serif", "Liberation Serif", serif' font-size="47" font-weight="normal" fill="#000" stroke="#000" stroke-width="1.7" stroke-linejoin="round">α</text>
<text transform="translate(158.3 775.4) scale(1 1.06)" font-family='"Liberation Sans", Arial, Helvetica, sans-serif' font-size="50" font-weight="bold" fill="#000" textLength="204.5" lengthAdjust="spacing">-Ge, 60s</text>
</g>
</g>
<g id="profile-b">
<clipPath id="clipb"><rect x="908.5" y="722.6" width="661.7" height="397"/></clipPath>
<path d="M910.5 906.97 L912.15 855.26 L913.8 977.18 L915.45 925.93 L917.09 911.37 L918.74 852.4 L920.39 841.45 L922.04 932.52 L923.69 940.44 L925.34 898.18 L926.98 893.47 L928.63 863.5 L930.28 900.1 L931.93 904.1 L933.58 893.8 L935.23 915.69 L936.87 874.7 L938.52 900.36 L940.17 934.28 L941.82 977.18 L943.47 928.19 L945.12 860.04 L946.76 953.1 L948.41 940.56 L950.06 936.74 L951.71 945.18 L953.36 934.01 L955.01 953.63 L956.65 955.78 L958.3 967.99 L959.95 929.79 L961.6 926.37 L963.25 854.33 L964.9 896.54 L966.54 936.93 L968.19 911.74 L969.84 879.18 L971.49 929.46 L973.14 919.06 L974.79 970.27 L976.43 873.21 L978.08 886.42 L979.73 904.49 L981.38 925.04 L983.03 912 L984.68 928.35 L986.33 931.28 L987.97 957.26 L989.62 862.43 L991.27 942.57 L992.92 937.93 L994.57 921.33 L996.22 903.41 L997.86 898.75 L999.51 939.77 L1001.16 926.52 L1002.81 900.29 L1004.46 951 L1006.11 933.21 L1007.75 974.2 L1009.4 927.74 L1011.05 925.75 L1012.7 943.23 L1014.35 910.96 L1016 958.32 L1017.64 917.03 L1019.29 1018.36 L1020.94 989.04 L1022.59 916.61 L1024.24 912.04 L1025.89 917.51 L1027.53 902.13 L1029.18 921.26 L1030.83 941.07 L1032.48 933.04 L1034.13 959.46 L1035.78 883.4 L1037.42 934.01 L1039.07 994.79 L1040.72 914.52 L1042.37 949.06 L1044.02 870.23 L1045.67 952.31 L1047.31 904.08 L1048.96 956.78 L1050.61 897.94 L1052.26 924.03 L1053.91 904.5 L1055.56 905.91 L1057.21 909.46 L1058.85 941.97 L1060.5 915.06 L1062.15 902.07 L1063.8 946.96 L1065.45 931.48 L1067.1 977.19 L1068.74 890.58 L1070.39 914.16 L1072.04 941.37 L1073.69 885.8 L1075.34 916.49 L1076.99 938.58 L1078.63 907.36 L1080.28 912.74 L1081.93 901.32 L1083.58 928.98 L1085.23 903.79 L1086.88 916.44 L1088.52 862.61 L1090.17 925.16 L1091.82 870.65 L1093.47 915.62 L1095.12 875.57 L1096.77 852.37 L1098.41 926.58 L1100.06 902.92 L1101.71 935.95 L1103.36 927.11 L1105.01 924.33 L1106.66 906.44 L1108.3 885.05 L1109.95 889.52 L1111.6 930.84 L1113.25 909.75 L1114.9 971.97 L1116.55 897.31 L1118.19 929.12 L1119.84 951.9 L1121.49 940.62 L1123.14 904.88 L1124.79 923.05 L1126.44 905.89 L1128.08 939.32 L1129.73 989.58 L1131.38 932.53 L1133.03 968.81 L1134.68 926.08 L1136.33 930.18 L1137.98 946.38 L1139.62 902.52 L1141.27 868.11 L1142.92 893.03 L1144.57 931.26 L1146.22 962.76 L1147.87 931.55 L1149.51 859.07 L1151.16 923.46 L1152.81 994.79 L1154.46 933.98 L1156.11 968.96 L1157.76 883.99 L1159.4 928.91 L1161.05 885.12 L1162.7 952.99 L1164.35 861.79 L1166 963.38 L1167.65 924.69 L1169.29 881.93 L1170.94 891.6 L1172.59 919.81 L1174.24 873.87 L1175.89 865.77 L1177.54 945.82 L1179.18 907.49 L1180.83 857.68 L1182.48 922.77 L1184.13 917.52 L1185.78 848.61 L1187.43 898.6 L1189.07 876.57 L1190.72 823.83 L1192.37 921.97 L1194.02 910.85 L1195.67 882.83 L1197.32 951.22 L1198.96 940.96 L1200.61 935.63 L1202.26 973.29 L1203.91 918.12 L1205.56 955.62 L1207.21 971.97 L1208.86 937.57 L1210.5 952.05 L1212.15 907.08 L1213.8 979.79 L1215.45 928.12 L1217.1 923.45 L1218.75 910.32 L1220.39 985.12 L1222.04 940.15 L1223.69 926.96 L1225.34 908.09 L1226.99 905.8 L1228.64 859.07 L1230.28 927.93 L1231.93 866.52 L1233.58 946.4 L1235.23 917.17 L1236.88 898.29 L1238.53 942.96 L1240.17 968.61 L1241.82 863.17 L1243.47 919.95 L1245.12 973.29 L1246.77 923.37 L1248.42 877.28 L1250.06 979.27 L1251.71 956.41 L1253.36 962.21 L1255.01 891.71 L1256.66 927.89 L1258.31 959.25 L1259.95 957.11 L1261.6 970.68 L1263.25 883.24 L1264.9 942.55 L1266.55 906.89 L1268.2 906.88 L1269.84 974.2 L1271.49 945.3 L1273.14 958.44 L1274.79 916.9 L1276.44 904.7 L1278.09 878.92 L1279.74 899.88 L1281.38 918.94 L1283.03 911.06 L1284.68 978.66 L1286.33 936.62 L1287.98 929.18 L1289.63 887.53 L1291.27 968.22 L1292.92 948.15 L1294.57 956.79 L1296.22 908.45 L1297.87 983.96 L1299.52 936.06 L1301.16 972.59 L1302.81 940.63 L1304.46 911.77 L1306.11 951.98 L1307.76 912.07 L1309.41 949.61 L1311.05 974.2 L1312.7 938.01 L1314.35 958.76 L1316 918.88 L1317.65 915.75 L1319.3 957.03 L1320.94 987.35 L1322.59 929.4 L1324.24 941.28 L1325.89 921.5 L1327.54 902.31 L1329.19 904.65 L1330.83 881.09 L1332.48 916.94 L1334.13 912.85 L1335.78 961.14 L1337.43 927.06 L1339.08 896.55 L1340.72 947.71 L1342.37 936.67 L1344.02 857.79 L1345.67 920.7 L1347.32 943.97 L1348.97 849.39 L1350.62 931.97 L1352.26 869.82 L1353.91 919.58 L1355.56 924.2 L1357.21 884.01 L1358.86 890.01 L1360.51 870.42 L1362.15 858.91 L1363.8 892.79 L1365.45 945.1 L1367.1 925.86 L1368.75 964.92 L1370.4 868.88 L1372.04 965.9 L1373.69 931.06 L1375.34 870.23 L1376.99 932.2 L1378.64 977.18 L1380.29 914.33 L1381.93 943.32 L1383.58 862.7 L1385.23 836.99 L1386.88 909.25 L1388.53 922.32 L1390.18 937.83 L1391.82 870.65 L1393.47 877.69 L1395.12 945.55 L1396.77 908.3 L1398.42 969.73 L1400.07 931.04 L1401.71 913.29 L1403.36 889.64 L1405.01 922.02 L1406.66 978.48 L1408.31 929.49 L1409.96 937.7 L1411.6 931.11 L1413.25 920.89 L1414.9 973.75 L1416.55 870.92 L1418.2 955.59 L1419.85 884.93 L1421.49 939.03 L1423.14 975.44 L1424.79 925.78 L1426.44 865.77 L1428.09 905.05 L1429.74 887.7 L1431.39 872.04 L1433.03 871.62 L1434.68 960.21 L1436.33 897.14 L1437.98 908.22 L1439.63 923.21 L1441.28 910.32 L1442.92 919.32 L1444.57 951.35 L1446.22 938.73 L1447.87 887.73 L1449.52 965.27 L1451.17 875.52 L1452.81 931.82 L1454.46 928.89 L1456.11 908.47 L1457.76 909.67 L1459.41 883.94 L1461.06 928.33 L1462.7 884.73 L1464.35 901.01 L1466 861.3 L1467.65 909.98 L1469.3 912.07 L1470.95 877.11 L1472.59 873.97 L1474.24 889.63 L1475.89 836.99 L1477.54 883.54 L1479.19 904.06 L1480.84 924.44 L1482.48 885.05 L1484.13 933.61 L1485.78 916.89 L1487.43 941.18 L1489.08 950.13 L1490.73 901.14 L1492.37 951.87 L1494.02 931.77 L1495.67 966.51 L1497.32 905.76 L1498.97 941.55 L1500.62 898.95 L1502.27 947.22 L1503.91 941.54 L1505.56 861.3 L1507.21 933.22 L1508.86 940.51 L1510.51 958.98 L1512.16 937.62 L1513.8 942.1 L1515.45 886.66 L1517.1 952.19 L1518.75 905.47 L1520.4 945.06 L1522.05 889.97 L1523.69 923.52 L1525.34 932.47 L1526.99 882.05 L1528.64 877.08 L1530.29 876.57 L1531.94 870.23 L1533.58 915.45 L1535.23 933.09 L1536.88 960.8 L1538.53 925.96 L1540.18 894 L1541.83 922.57 L1543.47 899.88 L1545.12 901.81 L1546.77 910 L1548.42 812.67 L1550.07 935 L1551.72 857.59 L1553.36 920.96 L1555.01 950.17 L1556.66 916.89 L1558.31 993.06 L1559.96 915.9 L1561.61 954.44 L1563.25 912.79 L1564.9 961.43 L1566.55 934.54 L1568.2 939.25" fill="none" stroke="#ff00ff" stroke-width="5" stroke-linejoin="bevel" clip-path="url(#clipb)"/>
<g>
<rect x="910.5" y="722.6" width="657.7" height="397" fill="none" stroke="#333" stroke-width="3.6"/>
<path d="M910.5 1119.6 V1110.6 M910.5 722.6 H919.5 M992.71 1119.6 V1115.6 M910.5 772.23 H914.5 M1074.92 1119.6 V1110.6 M910.5 821.85 H919.5 M1157.14 1119.6 V1115.6 M910.5 871.47 H914.5 M1239.35 1119.6 V1110.6 M910.5 921.1 H919.5 M1321.56 1119.6 V1115.6 M910.5 970.72 H914.5 M1403.78 1119.6 V1110.6 M910.5 1020.35 H919.5 M1485.99 1119.6 V1115.6 M910.5 1069.97 H914.5 M1568.2 1119.6 V1110.6 M910.5 1119.6 H919.5" fill="none" stroke="#333" stroke-width="2.6"/>
<text transform="translate(910.5 1154.6) scale(1 1.03)" font-family='"Liberation Sans", Arial, Helvetica, sans-serif' font-size="33" font-weight="normal" text-anchor="middle" fill="#222">0</text>
<text transform="translate(1074.92 1154.6) scale(1 1.03)" font-family='"Liberation Sans", Arial, Helvetica, sans-serif' font-size="33" font-weight="normal" text-anchor="middle" fill="#222">5</text>
<text transform="translate(1239.35 1154.6) scale(1 1.03)" font-family='"Liberation Sans", Arial, Helvetica, sans-serif' font-size="33" font-weight="normal" text-anchor="middle" fill="#222" textLength="38" lengthAdjust="spacing">10</text>
<text transform="translate(1403.78 1154.6) scale(1 1.03)" font-family='"Liberation Sans", Arial, Helvetica, sans-serif' font-size="33" font-weight="normal" text-anchor="middle" fill="#222" textLength="38" lengthAdjust="spacing">15</text>
<text transform="translate(1564.4 1154.6) scale(1 1.03)" font-family='"Liberation Sans", Arial, Helvetica, sans-serif' font-size="33" font-weight="normal" text-anchor="middle" fill="#222" textLength="38" lengthAdjust="spacing">20</text>
<text transform="translate(898 731.6) scale(1 1.03)" font-family='"Liberation Sans", Arial, Helvetica, sans-serif' font-size="33" font-weight="normal" text-anchor="end" fill="#222">8</text>
<text transform="translate(898 830.85) scale(1 1.03)" font-family='"Liberation Sans", Arial, Helvetica, sans-serif' font-size="33" font-weight="normal" text-anchor="end" fill="#222">4</text>
<text transform="translate(898 930.1) scale(1 1.03)" font-family='"Liberation Sans", Arial, Helvetica, sans-serif' font-size="33" font-weight="normal" text-anchor="end" fill="#222">0</text>
<text transform="translate(898 1029.35) scale(1 1.03)" font-family='"Liberation Sans", Arial, Helvetica, sans-serif' font-size="33" font-weight="normal" text-anchor="end" fill="#222">-4</text>
<text transform="translate(898 1128.6) scale(1 1.03)" font-family='"Liberation Sans", Arial, Helvetica, sans-serif' font-size="33" font-weight="normal" text-anchor="end" fill="#222">-8</text>
<text transform="translate(1106.5 1196.6)" font-family='"Liberation Sans", Arial, Helvetica, sans-serif' font-size="36.5" font-weight="bold" text-anchor="start" fill="#000" textLength="264" lengthAdjust="spacingAndGlyphs">Distance (μm)</text>
<text transform="translate(849.5 1033.8) rotate(-90) scale(1 1.04)" font-family='"Liberation Sans", Arial, Helvetica, sans-serif' font-size="39" font-weight="bold" text-anchor="start" fill="#000" textLength="225.5" lengthAdjust="spacing">Height (nm)</text>
<text transform="translate(928.5 775.4) scale(1.07 1)" font-family='"DejaVu Serif", "Liberation Serif", serif' font-size="47" font-weight="normal" fill="#000" stroke="#000" stroke-width="1.7" stroke-linejoin="round">α</text>
<text transform="translate(959.5 775.4) scale(1 1.06)" font-family='"Liberation Sans", Arial, Helvetica, sans-serif' font-size="50" font-weight="bold" fill="#000" textLength="209.8" lengthAdjust="spacing">-Ge, 30s</text>
</g>
</g>
<g id="profile-c">
<clipPath id="clipc"><rect x="1698.8" y="720.1" width="661.7" height="397.3"/></clipPath>
<path d="M1700.8 973.86 L1702.45 991.75 L1704.1 825.88 L1705.75 919.52 L1707.39 839.83 L1709.04 897.11 L1710.69 910.1 L1712.34 835.6 L1713.99 932.55 L1715.64 814.96 L1717.28 964.33 L1718.93 917.79 L1720.58 857.86 L1722.23 853.38 L1723.88 838.28 L1725.53 800.89 L1727.17 980.83 L1728.82 868.37 L1730.47 824.93 L1732.12 797.08 L1733.77 930.36 L1735.42 849.86 L1737.06 902.63 L1738.71 915.51 L1740.36 817.53 L1742.01 879.9 L1743.66 839.19 L1745.31 846.92 L1746.95 887.91 L1748.6 893.19 L1750.25 1000.69 L1751.9 897.54 L1753.55 957.53 L1755.2 950.45 L1756.84 934.15 L1758.49 946.32 L1760.14 880.09 L1761.79 845.41 L1763.44 982.75 L1765.09 888.82 L1766.73 981.96 L1768.38 955.93 L1770.03 1027.26 L1771.68 835.57 L1773.33 946.49 L1774.98 962.42 L1776.63 936.08 L1778.27 978.59 L1779.92 959.23 L1781.57 854.45 L1783.22 941.2 L1784.87 942.62 L1786.52 912.05 L1788.16 866.4 L1789.81 1019.94 L1791.46 910.33 L1793.11 925.34 L1794.76 991.75 L1796.41 883.9 L1798.05 963.09 L1799.7 825.88 L1801.35 909.43 L1803 956.11 L1804.65 878.17 L1806.3 905.37 L1807.94 930.11 L1809.59 933.61 L1811.24 909.77 L1812.89 904.96 L1814.54 1027.26 L1816.19 904.58 L1817.83 845.88 L1819.48 911.2 L1821.13 904.96 L1822.78 926.71 L1824.43 877.54 L1826.08 903.11 L1827.72 826.33 L1829.37 833.69 L1831.02 782.67 L1832.67 853.51 L1834.32 900.37 L1835.97 980.83 L1837.61 918.92 L1839.26 855.42 L1840.91 813.49 L1842.56 786.15 L1844.21 901.17 L1845.86 910.42 L1847.51 807.45 L1849.15 934.45 L1850.8 866.44 L1852.45 892 L1854.1 904.81 L1855.75 808.25 L1857.4 1002.82 L1859.04 1035.21 L1860.69 912.34 L1862.34 957.19 L1863.99 826.92 L1865.64 890.5 L1867.29 992.78 L1868.93 907.85 L1870.58 859.73 L1872.23 1007.15 L1873.88 906 L1875.53 845.75 L1877.18 864.19 L1878.82 917.74 L1880.47 891.99 L1882.12 903.77 L1883.77 966.29 L1885.42 867.83 L1887.07 1019.56 L1888.71 959.08 L1890.36 1010.45 L1892.01 912.57 L1893.66 885.49 L1895.31 930.37 L1896.96 836.03 L1898.6 933.56 L1900.25 936.45 L1901.9 861.45 L1903.55 945.69 L1905.2 808.25 L1906.85 842.13 L1908.49 835.74 L1910.14 915.01 L1911.79 985.56 L1913.44 978.99 L1915.09 838.33 L1916.74 934.37 L1918.38 817.94 L1920.03 862.95 L1921.68 831.94 L1923.33 970.72 L1924.98 945.89 L1926.63 929.41 L1928.28 847.24 L1929.92 860.5 L1931.57 926.3 L1933.22 971.89 L1934.87 938.77 L1936.52 959.59 L1938.17 802.31 L1939.81 974.13 L1941.46 956.93 L1943.11 980.83 L1944.76 925.5 L1946.41 889.71 L1948.06 938.64 L1949.7 867.3 L1951.35 835.44 L1953 948.46 L1954.65 976.94 L1956.3 919.98 L1957.95 857.98 L1959.59 864.21 L1961.24 806.02 L1962.89 956.82 L1964.54 900.39 L1966.19 852.23 L1967.84 950.96 L1969.48 985.3 L1971.13 904.29 L1972.78 895.39 L1974.43 949.07 L1976.08 835.61 L1977.73 921.82 L1979.37 999.67 L1981.02 865.27 L1982.67 947.99 L1984.32 857.03 L1985.97 916.81 L1987.62 955.43 L1989.26 908.33 L1990.91 950.77 L1992.56 825.88 L1994.21 919.07 L1995.86 880.02 L1997.51 927.18 L1999.16 1025.03 L2000.8 958.29 L2002.45 893.77 L2004.1 916.73 L2005.75 875.48 L2007.4 910.47 L2009.05 832.46 L2010.69 944.79 L2012.34 1018.32 L2013.99 986.74 L2015.64 890.94 L2017.29 892.02 L2018.94 948.07 L2020.58 787.14 L2022.23 876.22 L2023.88 900.58 L2025.53 955.84 L2027.18 1010.86 L2028.83 942.51 L2030.47 832.59 L2032.12 1040.42 L2033.77 1022.22 L2035.42 1033.47 L2037.07 952.26 L2038.72 987.65 L2040.36 943.51 L2042.01 990.51 L2043.66 1025.03 L2045.31 938.14 L2046.96 953.82 L2048.61 914.34 L2050.25 935.62 L2051.9 861.39 L2053.55 950.28 L2055.2 926.07 L2056.85 930.55 L2058.5 987.31 L2060.14 1029.5 L2061.79 979.96 L2063.44 1007.6 L2065.09 864.62 L2066.74 913.61 L2068.39 976.05 L2070.04 885.78 L2071.68 1009.38 L2073.33 905.98 L2074.98 995.42 L2076.63 920.09 L2078.28 993.65 L2079.93 960.54 L2081.57 862.13 L2083.22 972.81 L2084.87 895.75 L2086.52 972.99 L2088.17 886.7 L2089.82 919.81 L2091.46 957.86 L2093.11 908.35 L2094.76 1005.16 L2096.41 853.98 L2098.06 929.08 L2099.71 806.35 L2101.35 877.87 L2103 779.45 L2104.65 973.46 L2106.3 940.1 L2107.95 816.73 L2109.6 908.09 L2111.24 861.61 L2112.89 826.93 L2114.54 978 L2116.19 779.45 L2117.84 792.31 L2119.49 864.14 L2121.13 898.27 L2122.78 803.04 L2124.43 905.76 L2126.08 861.27 L2127.73 1009.38 L2129.38 924.2 L2131.02 872.23 L2132.67 894 L2134.32 869.77 L2135.97 869.64 L2137.62 977.67 L2139.27 846.41 L2140.92 878.97 L2142.56 986.07 L2144.21 1025.03 L2145.86 1004.39 L2147.51 933.58 L2149.16 906.77 L2150.81 831.34 L2152.45 961.42 L2154.1 969.9 L2155.75 958.7 L2157.4 963.86 L2159.05 979.24 L2160.7 887.1 L2162.34 939.18 L2163.99 967.11 L2165.64 1016.09 L2167.29 959.89 L2168.94 869.8 L2170.59 996.15 L2172.23 837.79 L2173.88 955.13 L2175.53 969.94 L2177.18 892.43 L2178.83 994.63 L2180.48 968.57 L2182.12 814.96 L2183.77 941.62 L2185.42 886.74 L2187.07 904.65 L2188.72 895.23 L2190.37 901.59 L2192.01 868.14 L2193.66 910.21 L2195.31 989.52 L2196.96 859.9 L2198.61 964.1 L2200.26 989.52 L2201.9 899.64 L2203.55 1012.45 L2205.2 872.36 L2206.85 808.26 L2208.5 888.27 L2210.15 812.99 L2211.79 797.08 L2213.44 860.86 L2215.09 919.77 L2216.74 861.02 L2218.39 841.57 L2220.04 869.98 L2221.69 820.46 L2223.33 968.61 L2224.98 855.1 L2226.63 937.12 L2228.28 847.98 L2229.93 872.12 L2231.58 932.58 L2233.22 923.42 L2234.87 987.28 L2236.52 857.52 L2238.17 937.27 L2239.82 1019.43 L2241.47 909.01 L2243.11 973.98 L2244.76 1000.07 L2246.41 846.15 L2248.06 874.85 L2249.71 941.25 L2251.36 906.59 L2253 865.9 L2254.65 993.53 L2256.3 1009.38 L2257.95 929.08 L2259.6 882.14 L2261.25 959.73 L2262.89 945.88 L2264.54 976.08 L2266.19 985.3 L2267.84 918.97 L2269.49 860.43 L2271.14 848.55 L2272.78 832.59 L2274.43 937.92 L2276.08 931.87 L2277.73 977.85 L2279.38 925.05 L2281.03 955.82 L2282.67 930.74 L2284.32 927.56 L2285.97 861.93 L2287.62 867.59 L2289.27 917.15 L2290.92 972.53 L2292.57 989.52 L2294.21 888.04 L2295.86 867.21 L2297.51 905.02 L2299.16 868.68 L2300.81 952.79 L2302.46 872.85 L2304.1 830.35 L2305.75 936.25 L2307.4 1020.56 L2309.05 843.65 L2310.7 977.98 L2312.35 873.83 L2313.99 938.09 L2315.64 937.29 L2317.29 933.42 L2318.94 945.08 L2320.59 922.5 L2322.24 825.38 L2323.88 853.08 L2325.53 937.34 L2327.18 895.94 L2328.83 876.29 L2330.48 951.48 L2332.13 820.23 L2333.77 932.35 L2335.42 889.23 L2337.07 979.92 L2338.72 980.03 L2340.37 973.49 L2342.02 1027.26 L2343.66 863.78 L2345.31 943.84 L2346.96 865.85 L2348.61 939.85 L2350.26 819.42 L2351.91 888.96 L2353.55 923.38 L2355.2 987.71 L2356.85 887.66 L2358.5 835.59" fill="none" stroke="#008214" stroke-width="5" stroke-linejoin="bevel" clip-path="url(#clipc)"/>
<g>
<rect x="1700.8" y="720.1" width="657.7" height="397.3" fill="none" stroke="#333" stroke-width="3.6"/>
<path d="M1700.8 1117.4 V1108.4 M1700.8 720.1 H1709.8 M1783.01 1117.4 V1113.4 M1700.8 769.76 H1704.8 M1865.22 1117.4 V1108.4 M1700.8 819.43 H1709.8 M1947.44 1117.4 V1113.4 M1700.8 869.09 H1704.8 M2029.65 1117.4 V1108.4 M1700.8 918.75 H1709.8 M2111.86 1117.4 V1113.4 M1700.8 968.41 H1704.8 M2194.07 1117.4 V1108.4 M1700.8 1018.08 H1709.8 M2276.29 1117.4 V1113.4 M1700.8 1067.74 H1704.8 M2358.5 1117.4 V1108.4 M1700.8 1117.4 H1709.8" fill="none" stroke="#333" stroke-width="2.6"/>
<text transform="translate(1700.8 1152) scale(1 1.03)" font-family='"Liberation Sans", Arial, Helvetica, sans-serif' font-size="33" font-weight="normal" text-anchor="middle" fill="#222">0</text>
<text transform="translate(1865.22 1152) scale(1 1.03)" font-family='"Liberation Sans", Arial, Helvetica, sans-serif' font-size="33" font-weight="normal" text-anchor="middle" fill="#222">5</text>
<text transform="translate(2029.65 1152) scale(1 1.03)" font-family='"Liberation Sans", Arial, Helvetica, sans-serif' font-size="33" font-weight="normal" text-anchor="middle" fill="#222" textLength="38" lengthAdjust="spacing">10</text>
<text transform="translate(2194.07 1152) scale(1 1.03)" font-family='"Liberation Sans", Arial, Helvetica, sans-serif' font-size="33" font-weight="normal" text-anchor="middle" fill="#222" textLength="38" lengthAdjust="spacing">15</text>
<text transform="translate(2354.7 1152) scale(1 1.03)" font-family='"Liberation Sans", Arial, Helvetica, sans-serif' font-size="33" font-weight="normal" text-anchor="middle" fill="#222" textLength="38" lengthAdjust="spacing">20</text>
<text transform="translate(1688.2 729.1) scale(1 1.03)" font-family='"Liberation Sans", Arial, Helvetica, sans-serif' font-size="33" font-weight="normal" text-anchor="end" fill="#222">8</text>
<text transform="translate(1688.2 828.43) scale(1 1.03)" font-family='"Liberation Sans", Arial, Helvetica, sans-serif' font-size="33" font-weight="normal" text-anchor="end" fill="#222">4</text>
<text transform="translate(1688.2 927.75) scale(1 1.03)" font-family='"Liberation Sans", Arial, Helvetica, sans-serif' font-size="33" font-weight="normal" text-anchor="end" fill="#222">0</text>
<text transform="translate(1688.2 1027.08) scale(1 1.03)" font-family='"Liberation Sans", Arial, Helvetica, sans-serif' font-size="33" font-weight="normal" text-anchor="end" fill="#222">-4</text>
<text transform="translate(1688.2 1126.4) scale(1 1.03)" font-family='"Liberation Sans", Arial, Helvetica, sans-serif' font-size="33" font-weight="normal" text-anchor="end" fill="#222">-8</text>
<text transform="translate(1896.5 1195)" font-family='"Liberation Sans", Arial, Helvetica, sans-serif' font-size="36.5" font-weight="bold" text-anchor="start" fill="#000" textLength="264.5" lengthAdjust="spacingAndGlyphs">Distance (μm)</text>
<text transform="translate(1643.4 1033.8) rotate(-90) scale(1 1.04)" font-family='"Liberation Sans", Arial, Helvetica, sans-serif' font-size="39" font-weight="bold" text-anchor="start" fill="#000" textLength="225.5" lengthAdjust="spacing">Height (nm)</text>
<text transform="translate(1722.1 775.4) scale(1.07 1)" font-family='"DejaVu Serif", "Liberation Serif", serif' font-size="47" font-weight="normal" fill="#000" stroke="#000" stroke-width="1.7" stroke-linejoin="round">α</text>
<text transform="translate(1753.1 775.4) scale(1 1.06)" font-family='"Liberation Sans", Arial, Helvetica, sans-serif' font-size="50" font-weight="bold" fill="#000" textLength="206" lengthAdjust="spacing">-Ge, 15s</text>
</g>
</g>
</g>
</svg></body></html>
